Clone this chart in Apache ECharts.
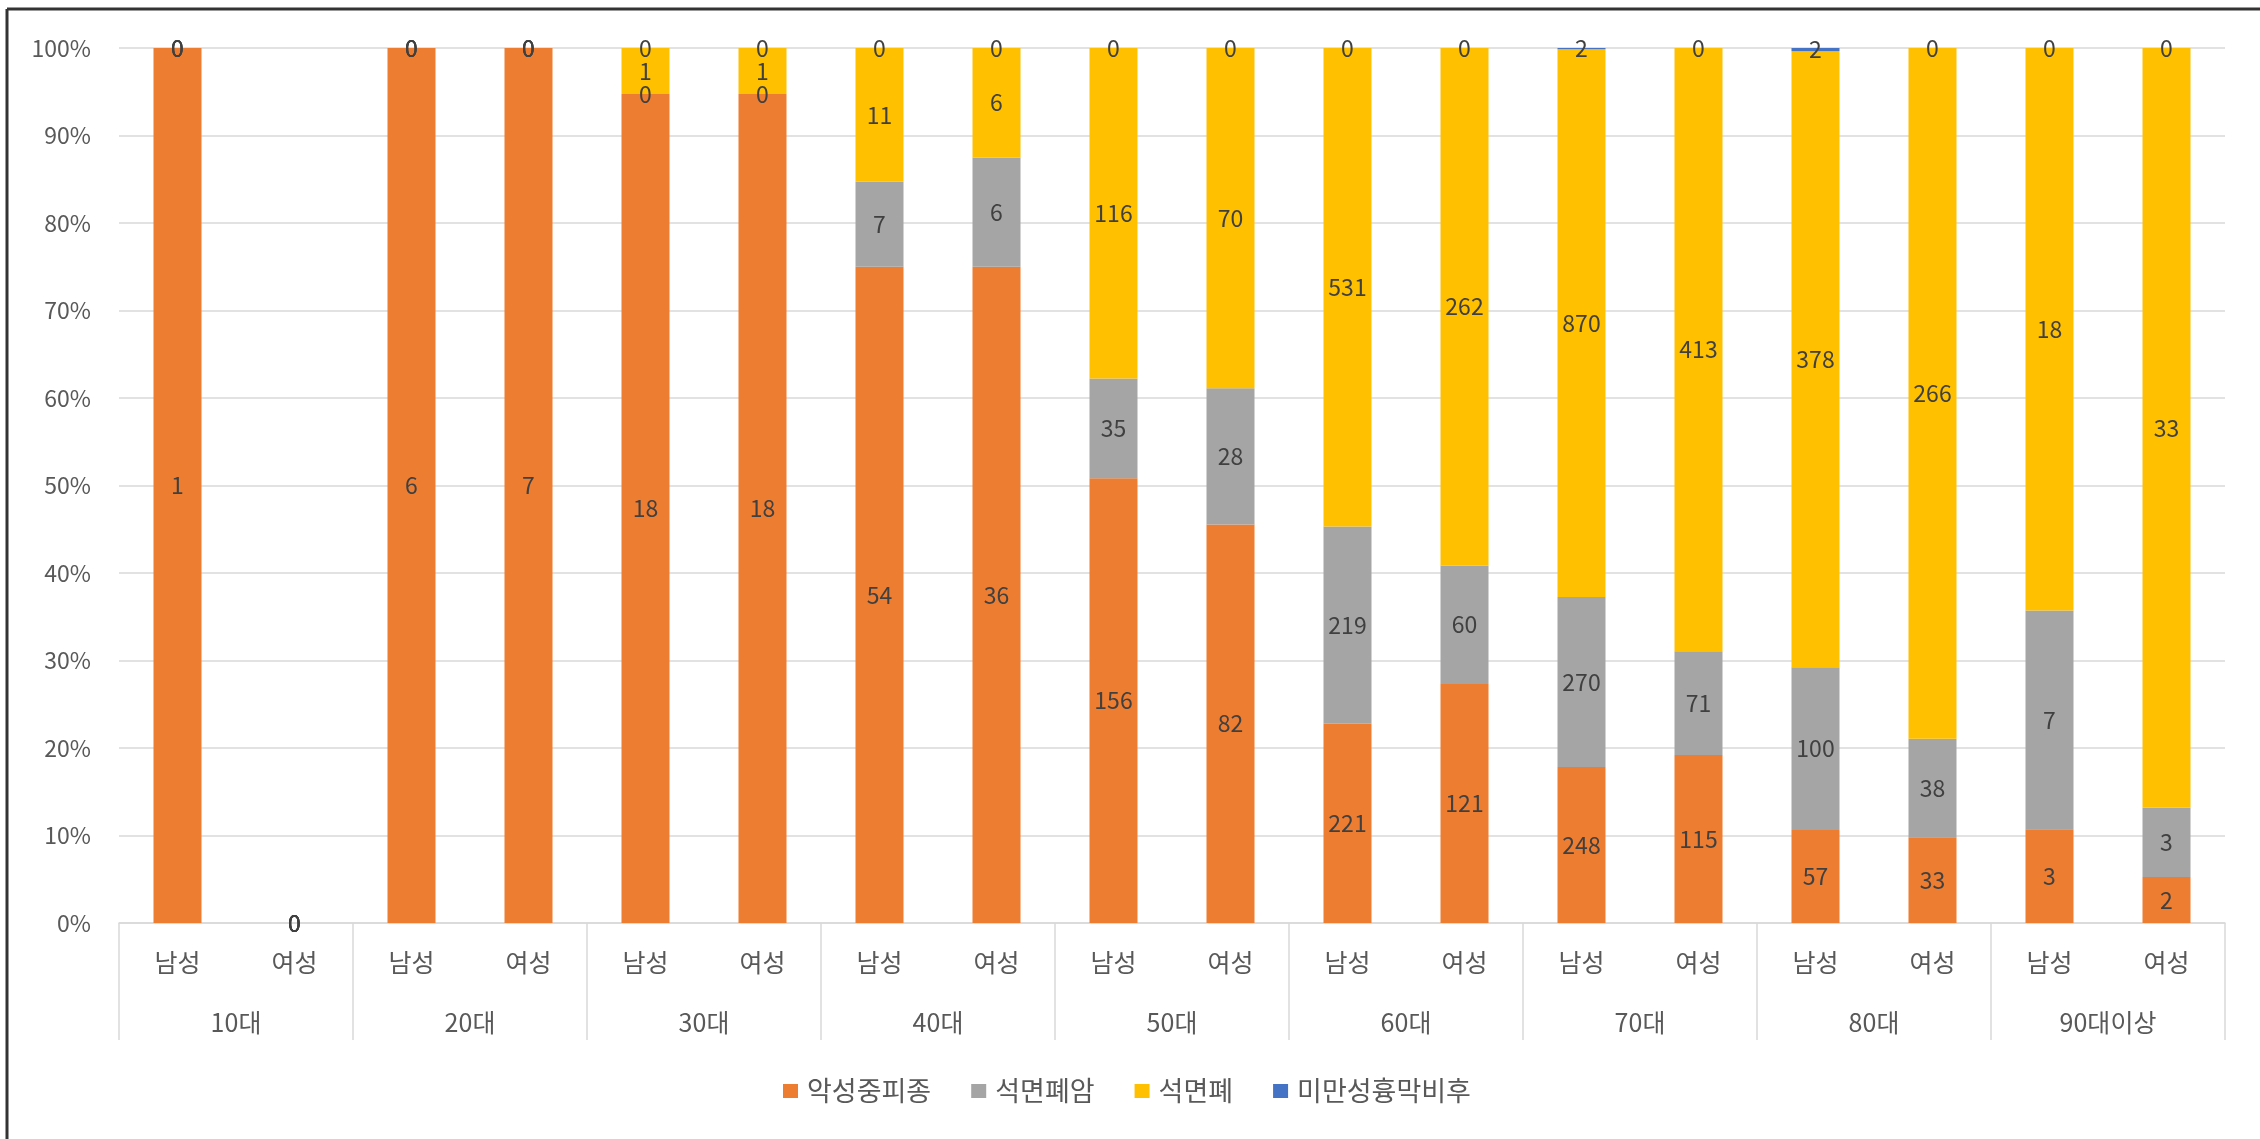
<!DOCTYPE html>
<html>
<head>
<meta charset="utf-8">
<script src="https://cdn.jsdelivr.net/npm/echarts@6/dist/echarts.min.js"></script>
<style>
html,body{margin:0;padding:0;background:#fff;}
#c{width:2260px;height:1139px;}
</style>
</head>
<body>
<div id="c"></div>
<script>
// categories
const ageGroups = ['10대','20대','30대','40대','50대','60대','70대','80대','90대이상'];
const sexes = ['남성','여성'];
const seriesNames = ['악성중피종','석면폐암','석면폐','미만성흉막비후'];
// raw counts, order: 10대 남,여, 20대 남,여, ... 90대이상 남,여
const mesothelioma = [1,0, 6,7, 18,18, 54,36, 156,82, 221,121, 248,115, 57,33, 3,2];
const lungCancer   = [0,0, 0,0, 0,0,   7,6,   35,28,  219,60,  270,71,  100,38, 7,3];
const asbestosis   = [0,0, 0,0, 1,1,   11,6,  116,70, 531,262, 870,413, 378,266, 18,33];
const pleural      = [0,0, 0,0, 0,0,   0,0,   0,0,    0,0,     2,0,     2,0,    0,0];
const yTicks = [0,10,20,30,40,50,60,70,80,90,100];

const colors = ['#ED7D31','#A5A5A5','#FFC000','#4472C4'];
const raw = [mesothelioma, lungCancer, asbestosis, pleural];
const sexCats = [];
ageGroups.forEach(() => sexes.forEach(s => sexCats.push(s)));
const totals = mesothelioma.map((_, i) => raw.reduce((a, r) => a + r[i], 0));

const FONT = '"Noto Sans CJK KR", "Noto Sans", sans-serif';

const series = raw.map((arr, si) => ({
  name: seriesNames[si],
  type: 'bar',
  stack: 'total',
  xAxisIndex: 0,
  barWidth: 48,
  clip: false,
  itemStyle: { color: colors[si] },
  label: {
    show: true,
    position: 'inside',
    fontFamily: FONT,
    fontSize: 23,
    color: '#404040',
    formatter: p => String(arr[p.dataIndex])
  },
  data: arr.map((v, i) => totals[i] ? v / totals[i] * 100 : 0)
}));

const chart = echarts.init(document.getElementById('c'), null, { renderer: 'canvas' });
chart.setOption({
  backgroundColor: '#fff',
  animation: false,
  textStyle: { fontFamily: FONT },
  grid: { left: 119, right: 35, top: 48, bottom: 216, containLabel: false },
  legend: {
    data: seriesNames,
    left: 778,
    top: 1070,
    icon: 'rect',
    itemWidth: 15,
    itemHeight: 14,
    itemGap: 40,
    textStyle: { fontFamily: FONT, fontSize: 27, color: '#595959', padding: [0,0,0,4], lineHeight: 32 }
  },
  xAxis: [
    {
      type: 'category',
      data: sexCats,
      position: 'bottom',
      axisLine: { show: true, lineStyle: { color: '#d9d9d9', width: 1.5 } },
      axisTick: { show: false },
      axisLabel: { interval: 0, fontFamily: FONT, fontSize: 25, color: '#595959', margin: 26, lineHeight: 26 },
      splitLine: { show: false }
    },
    {
      type: 'category',
      data: ageGroups,
      position: 'bottom',
      offset: 0,
      axisLine: { show: false },
      axisTick: { show: true, interval: 0, length: 117, lineStyle: { color: '#d9d9d9', width: 1.5 } },
      axisLabel: { interval: 0, fontFamily: FONT, fontSize: 25, color: '#595959', margin: 86, lineHeight: 26 },
      splitLine: { show: false }
    }
  ],
  yAxis: {
    type: 'value',
    min: yTicks[0],
    max: yTicks[yTicks.length - 1],
    interval: 10,
    axisLine: { show: false },
    axisTick: { show: false },
    axisLabel: { formatter: '{value}%', fontFamily: FONT, fontSize: 23, color: '#595959', margin: 28 },
    splitLine: { lineStyle: { color: '#d9d9d9', width: 1.5 } }
  },
  graphic: [
    { type: 'line', shape: { x1: 7, y1: 9, x2: 2260, y2: 9 }, style: { stroke: '#333', lineWidth: 3 } },
    { type: 'line', shape: { x1: 7, y1: 9, x2: 7, y2: 1139 }, style: { stroke: '#333', lineWidth: 3 } }
  ],
  series: series
});
</script>
</body>
</html>
